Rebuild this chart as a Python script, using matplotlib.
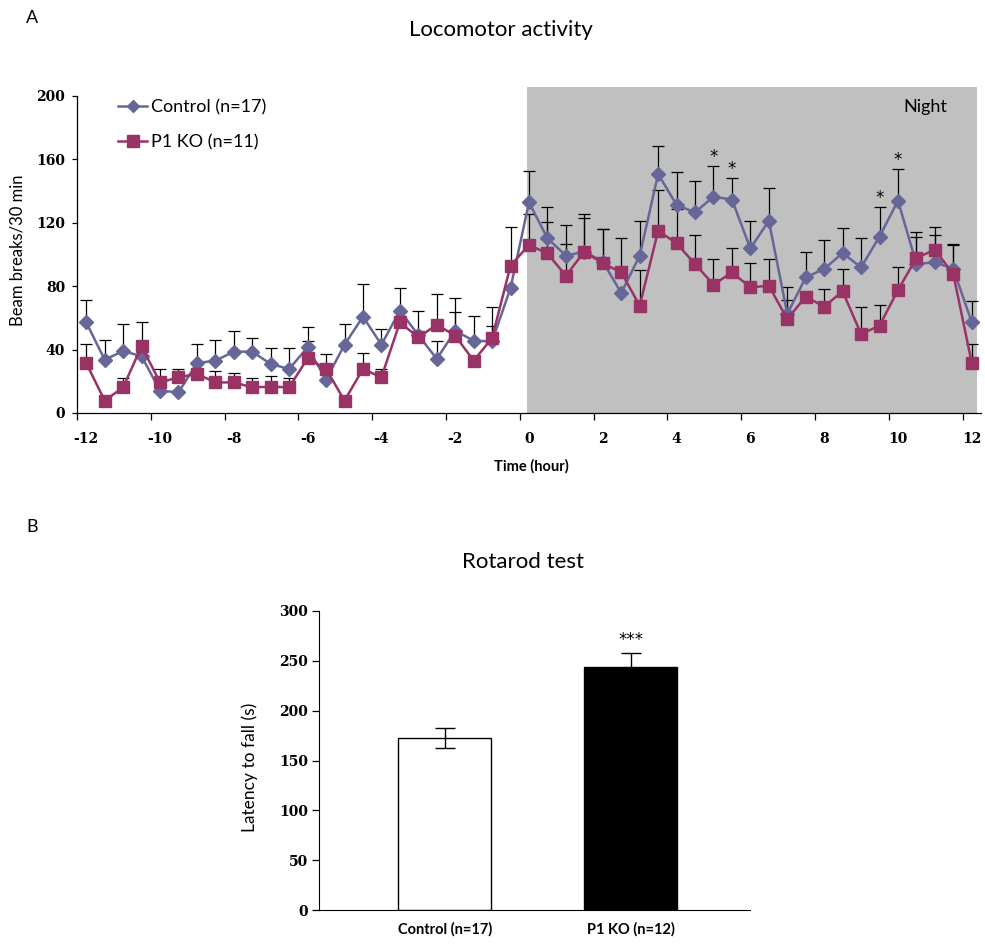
import matplotlib
matplotlib.use("Agg")
import matplotlib.pyplot as plt
import numpy as np
from matplotlib.patches import Rectangle

# ---------------- data ----------------
hours = [-12 + 0.5 * i for i in range(49)]
control_mean = [57.2, 33.6, 39.1, 35.8, 14.1, 13.0, 31.5, 33.0, 38.7, 38.7, 30.9, 27.8,
                41.4, 21.0, 43.1, 60.8, 43.1, 64.6, 49.2, 34.1, 51.9, 45.6, 45.2, 78.9,
                132.9, 110.2, 99.3, 101.8, 95.5, 75.7, 99.3, 150.8, 131.2, 126.6, 136.5, 134.6,
                103.8, 121.3, 62.5, 85.6, 90.9, 100.9, 91.9, 111.3, 134.0, 94.0, 95.1, 90.9, 57.2]
control_sem = [14.0, 12.5, 17.1, 0, 0, 0, 12.0, 13.1, 12.8, 8.4, 10.1, 13.2,
               13.1, 0, 13.1, 20.8, 9.7, 14.5, 15.4, 11.5, 20.9, 15.8, 21.9, 0,
               19.6, 20.0, 19.5, 23.8, 20.5, 0, 21.6, 17.4, 20.6, 19.6, 19.1, 13.7,
               17.1, 20.7, 17.2, 15.8, 18.2, 15.6, 18.3, 18.5, 19.9, 16.8, 17.4, 15.7, 13.7]
ko_mean = [31.5, 7.8, 16.2, 42.1, 19.3, 22.5, 24.6, 19.3, 19.3, 16.2, 16.6, 16.2,
           34.5, 27.8, 7.8, 27.8, 22.5, 57.2, 47.7, 55.7, 48.8, 33.0, 47.3, 93.0,
           106.0, 100.7, 86.6, 101.8, 94.4, 88.7, 67.7, 115.0, 107.0, 94.0, 81.0, 88.7,
           79.3, 80.3, 59.3, 73.4, 67.1, 76.8, 49.8, 55.1, 77.6, 97.8, 103.0, 87.6, 31.5]
ko_sem = [12.0, 0, 5.7, 15.3, 8.5, 5.3, 1.5, 7.0, 5.9, 6.1, 7.0, 5.7,
          11.1, 9.4, 0, 10.3, 5.3, 0, 0, 19.2, 14.7, 0, 7.8, 24.6,
          19.6, 19.6, 19.8, 21.0, 21.6, 21.9, 22.5, 25.7, 21.7, 18.5, 16.2, 15.4,
          15.3, 16.9, 12.2, 0, 11.1, 14.1, 17.3, 13.2, 14.7, 16.6, 14.6, 18.4, 12.0]
star_hours = [5.0, 5.5, 9.5, 10.0]
xtick_labels = ["-12", "-10", "-8", "-6", "-4", "-2", "0", "2", "4", "6", "8", "10", "12"]
ytick_top = [0, 40, 80, 120, 160, 200]

rot_groups = ["Control (n=17)", "P1 KO (n=12)"]
rot_mean = [173, 243.5]
rot_sem = [10, 14.5]
ytick_bot = [0, 50, 100, 150, 200, 250, 300]

# ---------------- style ----------------
C_CTRL = "#666699"
C_KO = "#993366"
SANS = "Lato"
SERIF = "DejaVu Serif"
STAR = "DejaVu Sans"

W, H = 985, 947
fig = plt.figure(figsize=(W / 100, H / 100), dpi=100)

def fx(px):
    return px / W

def fy(py):
    return 1 - py / H

# ---------------- panel A ----------------
axA = fig.add_axes([fx(77), fy(413), fx(981 - 77), (413 - 96) / H])
axA.set_xlim(-12.25, 12.25)
axA.set_ylim(0, 200)

axA.add_patch(Rectangle((-0.05, 0), 12.2, 205.5, facecolor="#C0C0C0",
                        edgecolor="none", zorder=0, clip_on=False))

axA.errorbar(hours, control_mean, yerr=[np.zeros(len(hours)), control_sem],
             fmt="none", ecolor="black", elinewidth=0.9, capsize=4.5, capthick=0.9, zorder=2)
axA.errorbar(hours, ko_mean, yerr=[np.zeros(len(hours)), ko_sem],
             fmt="none", ecolor="black", elinewidth=0.9, capsize=4.5, capthick=0.9, zorder=2)
axA.plot(hours, control_mean, color=C_CTRL, lw=1.8, marker="D", ms=6.8,
         mec=C_CTRL, mfc=C_CTRL, zorder=3, label="Control (n=17)")
axA.plot(hours, ko_mean, color=C_KO, lw=1.8, marker="s", ms=9,
         mec=C_KO, mfc=C_KO, zorder=4, label="P1 KO (n=11)")

for h in star_hours:
    i = hours.index(h)
    top = control_mean[i] + control_sem[i]
    axA.annotate("*", (h, top), xytext=(0, 0), textcoords="offset points",
                 ha="center", va="bottom", fontsize=12, family=STAR, zorder=5)

axA.text(10.73, 193, "Night", ha="center", va="center", fontsize=13, family=SANS)

for s in ["top", "right"]:
    axA.spines[s].set_visible(False)
for s in ["left", "bottom"]:
    axA.spines[s].set_linewidth(0.9)

axA.set_yticks(ytick_top)
axA.set_yticklabels([str(v) for v in ytick_top], family=SERIF, fontweight="bold", fontsize=10)
axA.tick_params(axis="y", direction="out", length=3.5, width=0.9, pad=5)
axA.set_xticks([float(v) for v in xtick_labels])
axA.set_xticklabels(xtick_labels, family=SERIF, fontweight="bold", fontsize=10)
axA.tick_params(axis="x", which="major", length=0, pad=14)
axA.set_xticks([-12.25 + 2 * k for k in range(13)], minor=True)
axA.tick_params(axis="x", which="minor", direction="out", length=5, width=0.9)

leg = axA.legend(loc="upper left", bbox_to_anchor=(fx(111), fy(92)),
                 bbox_transform=fig.transFigure, frameon=False, prop={"family": SANS, "size": 13},
                 handlelength=1.6, handletextpad=0.2, labelspacing=1.05, borderaxespad=0)
for hnd in leg.legend_handles:
    hnd.set_markersize(hnd.get_markersize() * 0.95)

fig.text(fx(32), fy(18), "A", ha="center", va="center", fontsize=13, family=SANS)
fig.text(fx(501), fy(30), "Locomotor activity", ha="center", va="center", fontsize=16, family=SANS)
fig.text(fx(531), fy(466), "Time (hour)", ha="center", va="center", fontsize=10.5,
         family=SANS, fontweight="bold")
fig.text(fx(18), fy(250), "Beam breaks/30 min", ha="center", va="center", rotation=90,
         fontsize=12, family=SANS)

# ---------------- panel B ----------------
axB = fig.add_axes([fx(319), fy(910), fx(750 - 319), (910 - 611) / H])
xpos = np.arange(len(rot_groups))
axB.set_xlim(-0.677, 1.64)
axB.set_ylim(0, 300)
axB.bar(xpos, rot_mean, width=0.5, color=["white", "black"], edgecolor="black", linewidth=1.0, zorder=2)
axB.errorbar(xpos, rot_mean, yerr=rot_sem, fmt="none", ecolor="black", elinewidth=1.0,
             capsize=7, capthick=1.0, zorder=3)
axB.annotate("***", (xpos[1], rot_mean[1] + rot_sem[1]), xytext=(0, 3), textcoords="offset points",
             ha="center", va="bottom", fontsize=12, family=STAR)
for s in ["top", "right"]:
    axB.spines[s].set_visible(False)
axB.set_yticks(ytick_bot)
axB.set_yticklabels([str(v) for v in ytick_bot], family=SERIF, fontweight="bold", fontsize=10)
axB.tick_params(axis="y", direction="out", length=5, width=0.9, pad=3)
axB.set_xticks(xpos)
axB.set_xticklabels(rot_groups, family=SANS, fontweight="bold", fontsize=10.5)
axB.tick_params(axis="x", length=0, pad=9)

fig.text(fx(32), fy(527), "B", ha="center", va="center", fontsize=13, family=SANS)
fig.text(fx(523), fy(562), "Rotarod test", ha="center", va="center", fontsize=16, family=SANS)
fig.text(fx(250), fy(767), "Latency to fall (s)", ha="center", va="center", rotation=90,
         fontsize=12.5, family=SANS)

fig.savefig("out.png", dpi=100)
